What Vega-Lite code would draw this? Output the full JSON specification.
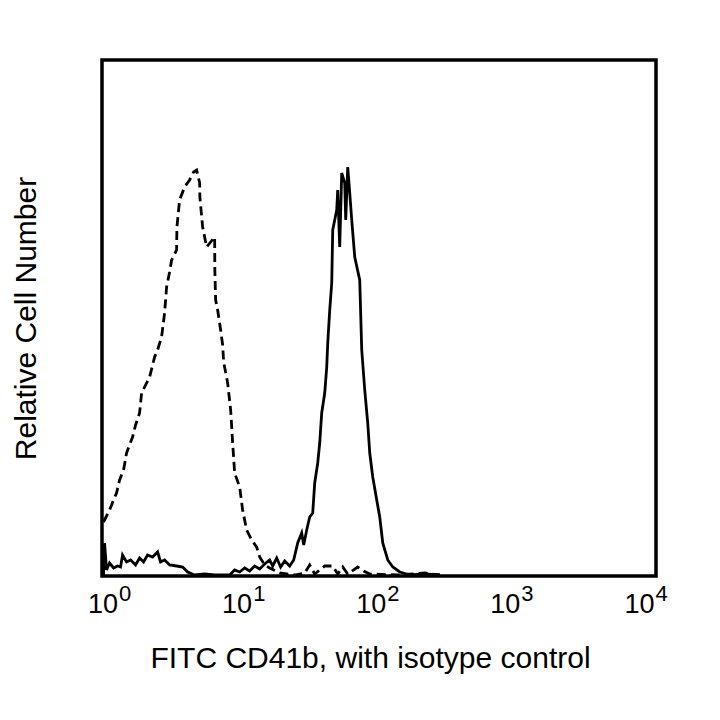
{
  "$schema": "https://vega.github.io/schema/vega-lite/v6.json",
  "width": 554,
  "height": 516,
  "autosize": {"type": "none"},
  "padding": {"left": 102, "top": 60, "right": 64, "bottom": 144},
  "background": "white",
  "config": {
    "view": {"stroke": "black", "strokeWidth": 3.5},
    "font": "Liberation Sans"
  },
  "datasets": {
    "cd41b": [
      {"i":1,"x":0.9336,"y":1},{"i":2,"x":0.950,"y":33},{"i":3,"x":0.983,"y":6},{"i":4,"x":1.035,"y":13},
      {"i":5,"x":1.109,"y":8},{"i":6,"x":1.187,"y":10},{"i":7,"x":1.250,"y":9},{"i":8,"x":1.294,"y":21},
      {"i":9,"x":1.386,"y":14},{"i":10,"x":1.485,"y":16},{"i":11,"x":1.618,"y":11},{"i":12,"x":1.733,"y":18},
      {"i":13,"x":1.856,"y":14},{"i":14,"x":1.988,"y":21},{"i":15,"x":2.167,"y":19},{"i":16,"x":2.361,"y":24},
      {"i":17,"x":2.486,"y":14},{"i":18,"x":2.663,"y":16},{"i":19,"x":2.902,"y":11},{"i":20,"x":3.273,"y":10},
      {"i":21,"x":3.628,"y":9},{"i":22,"x":3.954,"y":4},{"i":23,"x":4.460,"y":1},{"i":24,"x":5.296,"y":2},
      {"i":25,"x":6.289,"y":1},{"i":26,"x":8.137,"y":1},{"i":27,"x":8.868,"y":6},{"i":28,"x":9.663,"y":4},
      {"i":29,"x":10.53,"y":8},{"i":30,"x":11.47,"y":5},{"i":31,"x":12.50,"y":10},{"i":32,"x":13.62,"y":7},
      {"i":33,"x":14.85,"y":12},{"i":34,"x":16.18,"y":16},{"i":35,"x":17.03,"y":10},{"i":36,"x":18.25,"y":18},
      {"i":37,"x":19.54,"y":9},{"i":38,"x":20.94,"y":15},{"i":39,"x":22.81,"y":10},{"i":40,"x":24.44,"y":16},
      {"i":41,"x":26.18,"y":33},{"i":42,"x":28.04,"y":43},{"i":43,"x":29.02,"y":31},{"i":44,"x":30.56,"y":46},
      {"i":45,"x":32.17,"y":59},{"i":46,"x":33.88,"y":63},{"i":47,"x":35.06,"y":93},{"i":48,"x":36.92,"y":113},
      {"i":49,"x":38.21,"y":133},{"i":50,"x":39.54,"y":163},{"i":51,"x":41.64,"y":183},{"i":52,"x":43.10,"y":209},
      {"i":53,"x":43.85,"y":233},{"i":54,"x":45.38,"y":266},{"i":55,"x":46.96,"y":293},{"i":56,"x":47.77,"y":346},
      {"i":57,"x":49.43,"y":356},{"i":58,"x":51.17,"y":366},{"i":59,"x":52.05,"y":386},{"i":60,"x":53.86,"y":329},
      {"i":61,"x":55.74,"y":403},{"i":62,"x":58.70,"y":393},{"i":63,"x":59.71,"y":356},{"i":64,"x":61.81,"y":409},
      {"i":65,"x":63.97,"y":383},{"i":66,"x":66.21,"y":356},{"i":67,"x":69.71,"y":319},{"i":68,"x":75.95,"y":296},
      {"i":69,"x":78.61,"y":226},{"i":70,"x":82.78,"y":186},{"i":71,"x":87.15,"y":153},{"i":72,"x":90.21,"y":123},
      {"i":73,"x":94.97,"y":99},{"i":74,"x":101.7,"y":76},{"i":75,"x":107.1,"y":59},{"i":76,"x":112.8,"y":33},
      {"i":77,"x":122.9,"y":16},{"i":78,"x":134.0,"y":9},{"i":79,"x":151.1,"y":4},{"i":80,"x":179.4,"y":1},
      {"i":81,"x":232.1,"y":2},{"i":82,"x":300.4,"y":1}
    ],
    "isotype": [
      {"i":1,"x":0.9336,"y":54},{"i":2,"x":1.035,"y":66},{"i":3,"x":1.109,"y":76},{"i":4,"x":1.167,"y":83},
      {"i":5,"x":1.229,"y":96},{"i":6,"x":1.316,"y":106},{"i":7,"x":1.386,"y":123},{"i":8,"x":1.459,"y":131},
      {"i":9,"x":1.537,"y":139},{"i":10,"x":1.618,"y":151},{"i":11,"x":1.733,"y":163},{"i":12,"x":1.794,"y":183},
      {"i":13,"x":1.921,"y":191},{"i":14,"x":2.058,"y":199},{"i":15,"x":2.243,"y":219},{"i":16,"x":2.361,"y":226},
      {"i":17,"x":2.529,"y":239},{"i":18,"x":2.663,"y":263},{"i":19,"x":2.756,"y":289},{"i":20,"x":2.902,"y":304},
      {"i":21,"x":3.004,"y":316},{"i":22,"x":3.273,"y":326},{"i":23,"x":3.29,"y":349},{"i":24,"x":3.445,"y":376},
      {"i":25,"x":3.754,"y":389},{"i":26,"x":4.092,"y":396},{"i":27,"x":4.383,"y":404},{"i":28,"x":4.615,"y":406},
      {"i":29,"x":4.860,"y":393},{"i":30,"x":4.88,"y":379},{"i":31,"x":5.117,"y":349},{"i":32,"x":5.482,"y":329},
      {"i":33,"x":5.871,"y":334},{"i":34,"x":6.289,"y":339},{"i":35,"x":6.31,"y":306},{"i":36,"x":6.397,"y":276},
      {"i":37,"x":6.621,"y":266},{"i":38,"x":6.971,"y":246},{"i":39,"x":7.215,"y":231},{"i":40,"x":7.340,"y":214},
      {"i":41,"x":7.863,"y":193},{"i":42,"x":8.279,"y":166},{"i":43,"x":8.568,"y":133},{"i":44,"x":8.868,"y":103},
      {"i":45,"x":9.663,"y":89},{"i":46,"x":10.17,"y":66},{"i":47,"x":10.90,"y":46},{"i":48,"x":11.88,"y":36},
      {"i":49,"x":12.94,"y":29},{"i":50,"x":13.62,"y":19},{"i":51,"x":14.85,"y":11},{"i":52,"x":16.18,"y":8},
      {"i":53,"x":19.21,"y":3},{"i":54,"x":24.86,"y":1},{"i":55,"x":29.52,"y":3},{"i":56,"x":32.17,"y":11},
      {"i":57,"x":35.06,"y":2},{"i":58,"x":41.64,"y":10},{"i":59,"x":47.77,"y":10},{"i":60,"x":52.05,"y":2},
      {"i":61,"x":56.72,"y":9},{"i":62,"x":61.81,"y":2},{"i":63,"x":73.39,"y":9},{"i":64,"x":81.37,"y":5},
      {"i":65,"x":90.21,"y":2},{"i":66,"x":146.0,"y":1},{"i":67,"x":232.1,"y":3},{"i":68,"x":300.4,"y":1}
    ]
  },
  "layer": [
    {
      "data": {"name": "cd41b"},
      "mark": {"type": "line", "color": "black", "strokeWidth": 2.8, "clip": true},
      "encoding": {
        "x": {
          "field": "x", "type": "quantitative",
          "scale": {"type": "log", "domain": [0.909, 12300], "nice": false},
          "axis": {
            "orient": "bottom", "values": [1, 10, 100, 1000, 10000],
            "labelExpr": "'10'", "labelAlign": "right", "labelOffset": 10,
            "labelFontSize": 27, "labelFont": "Liberation Sans", "labelColor": "black",
            "labelBaseline": "alphabetic", "labelPadding": 36, "labelFlush": false, "labelOverlap": false,
            "ticks": false, "tickSize": 0, "domain": false, "grid": false,
            "title": "FITC CD41b, with isotype control",
            "titleFont": "Liberation Sans", "titleFontSize": 30, "titleFontWeight": "normal", "titleColor": "black",
            "titleBaseline": "alphabetic", "titleAlign": "center", "titleX": 268, "titleY": 91
          }
        },
        "y": {
          "field": "y", "type": "quantitative",
          "scale": {"domain": [0, 516], "nice": false},
          "axis": {
            "labels": false, "ticks": false, "domain": false, "grid": false,
            "title": "Relative Cell Number",
            "titleFont": "Liberation Sans", "titleFontSize": 30, "titleFontWeight": "normal", "titleColor": "black",
            "titleBaseline": "alphabetic", "titleAlign": "center", "titleAngle": 270, "titleX": -67, "titleY": 258
          }
        },
        "order": {"field": "i", "type": "quantitative"}
      }
    },
    {
      "data": {"name": "isotype"},
      "mark": {"type": "line", "color": "black", "strokeWidth": 2.8, "strokeDash": [9, 5], "clip": true},
      "encoding": {
        "x": {
          "field": "x", "type": "quantitative",
          "scale": {"type": "log", "domain": [0.909, 12300], "nice": false},
          "axis": {
            "orient": "bottom", "values": [1, 10, 100, 1000, 10000],
            "labelExpr": "'' + round(log(datum.value) / LN10)", "labelAlign": "left", "labelOffset": 11,
            "labelFontSize": 22, "labelFont": "Liberation Sans", "labelColor": "black",
            "labelBaseline": "alphabetic", "labelPadding": 24, "labelFlush": false, "labelOverlap": false,
            "ticks": false, "tickSize": 0, "domain": false, "grid": false, "title": null
          }
        },
        "y": {
          "field": "y", "type": "quantitative",
          "scale": {"domain": [0, 516], "nice": false},
          "axis": {
            "labels": false, "ticks": false, "domain": false, "grid": false,
            "title": "Relative Cell Number",
            "titleFont": "Liberation Sans", "titleFontSize": 30, "titleFontWeight": "normal", "titleColor": "black",
            "titleBaseline": "alphabetic", "titleAlign": "center", "titleAngle": 270, "titleX": -67, "titleY": 258
          }
        },
        "order": {"field": "i", "type": "quantitative"}
      }
    }
  ],
  "resolve": {"axis": {"x": "independent"}}
}
